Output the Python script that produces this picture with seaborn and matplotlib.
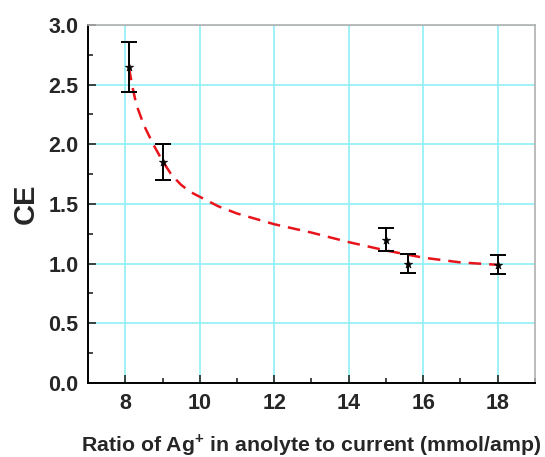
import matplotlib
matplotlib.use("Agg")
import matplotlib.pyplot as plt
import seaborn as sns
import pandas as pd
from matplotlib.ticker import MultipleLocator

# Measured current efficiency vs. Ag+ / current ratio
ratio = [8.1, 9.0, 15.0, 15.6, 18.0]
ce = [2.65, 1.85, 1.20, 1.00, 0.99]
ce_err = [0.21, 0.15, 0.095, 0.08, 0.08]

# Fitted trend curve
fit_ratio = [8.1, 8.2, 8.3, 8.5, 8.75, 9.0, 9.25, 9.5, 9.75, 10.0, 10.5, 11.0,
             12.0, 13.0, 14.0, 15.0, 16.0, 17.0, 18.0]
fit_ce = [2.64, 2.47, 2.33, 2.16, 2.00, 1.86, 1.74, 1.66, 1.60, 1.56, 1.48, 1.42,
          1.33, 1.26, 1.18, 1.11, 1.05, 1.01, 0.99]

x_ticks = [8, 10, 12, 14, 16, 18]
y_ticks = [0.0, 0.5, 1.0, 1.5, 2.0, 2.5, 3.0]

sns.set_style("white")
plt.rcParams["font.family"] = ["Liberation Sans", "DejaVu Sans"]
plt.rcParams["mathtext.fontset"] = "custom"
plt.rcParams["mathtext.rm"] = "Liberation Sans:bold"
plt.rcParams["mathtext.bf"] = "Liberation Sans:bold"

pts = pd.DataFrame({"ratio": ratio, "ce": ce, "err": ce_err})
fit = pd.DataFrame({"ratio": fit_ratio, "ce": fit_ce})

fig = plt.figure(figsize=(5.45, 4.57), dpi=100)
ax = fig.add_axes([0.1615, 0.162, 0.82, 0.7835])

ax.grid(True, color="#8ff0f6", linewidth=1.2, zorder=0)
ax.set_axisbelow(True)

sns.lineplot(data=fit, x="ratio", y="ce", ax=ax, color="#e8141c", linewidth=1.8,
             dashes=False, sort=False, zorder=3)
ax.lines[-1].set_dashes([5, 3.2])

ax.errorbar(pts["ratio"], pts["ce"], yerr=pts["err"], fmt="none", ecolor="black",
            elinewidth=1.4, capsize=5.5, capthick=1.4, zorder=4)
sns.scatterplot(data=pts, x="ratio", y="ce", ax=ax, marker="*", color="black",
                s=40, edgecolor="black", linewidth=0.4, zorder=5)

ax.set_xlim(7, 19)
ax.set_ylim(0, 3.0)
ax.set_xticks(x_ticks)
ax.set_yticks(y_ticks)
ax.set_xticklabels([str(t) for t in x_ticks])
ax.set_yticklabels([f"{t:.1f}" for t in y_ticks])
ax.xaxis.set_minor_locator(MultipleLocator(1))
ax.yaxis.set_minor_locator(MultipleLocator(0.25))

ax.tick_params(axis="both", which="major", direction="in", length=6, width=1.2,
               labelsize=15.5, pad=7, bottom=True, left=True, top=False, right=False)
ax.tick_params(axis="both", which="minor", direction="in", length=3.5, width=1.2,
               bottom=True, left=True, top=False, right=False)
for lab in ax.get_xticklabels() + ax.get_yticklabels():
    lab.set_fontweight("bold")

for side in ("left", "bottom"):
    ax.spines[side].set_color("black")
    ax.spines[side].set_linewidth(1.4)
for side in ("top", "right"):
    ax.spines[side].set_color("#b0b0b0")
    ax.spines[side].set_linewidth(1.2)

ax.set_xlabel(r"Ratio of Ag$^{+}$ in anolyte to current (mmol/amp)",
              fontsize=15.3, fontweight="bold", labelpad=13)
ax.set_ylabel("CE", fontsize=21, fontweight="bold", labelpad=6)

fig.savefig("out.png", dpi=100)
